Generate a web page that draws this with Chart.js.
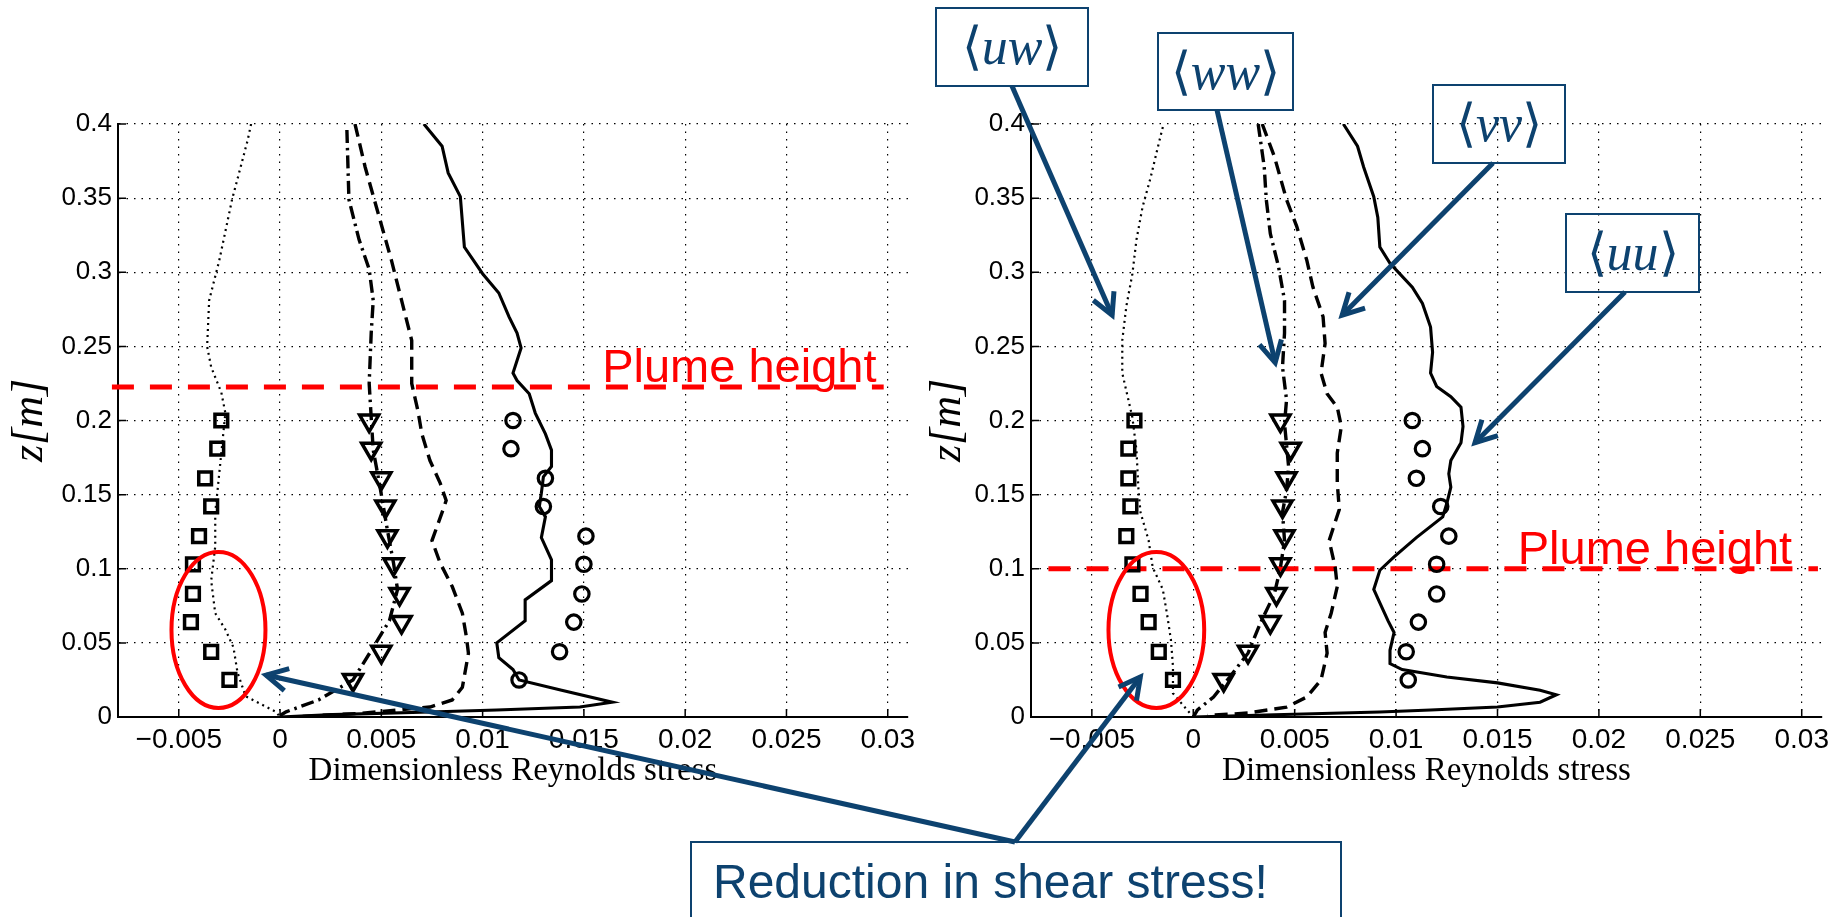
<!DOCTYPE html>
<html>
<head>
<meta charset="utf-8">
<script src="https://cdn.jsdelivr.net/npm/chart.js@4.4.1/dist/chart.umd.min.js"></script>
<style>
html, body { margin: 0; padding: 0; background: #fff; }
#page { position: relative; width: 1841px; height: 917px; overflow: hidden; background: #fff; }
#page canvas, #notes { position: absolute; left: 0; top: 0; }
</style>
</head>
<body>
<div id="page">
  <canvas id="leftChart" width="1841" height="917"></canvas>
  <canvas id="rightChart" width="1841" height="917"></canvas>
  <svg id="notes" width="1841" height="917"></svg>
</div>
<script>
// axis ticks
const xTicks = [-0.005, 0, 0.005, 0.01, 0.015, 0.02, 0.025, 0.03];
const xTickLabels = ["\u22120.005", "0", "0.005", "0.01", "0.015", "0.02", "0.025", "0.03"];
const yTicks = [0, 0.05, 0.1, 0.15, 0.2, 0.25, 0.3, 0.35, 0.4];
const yTickLabels = ["0", "0.05", "0.1", "0.15", "0.2", "0.25", "0.3", "0.35", "0.4"];

// probe heights shared by all measured profiles
const probeHeights = [0.2, 0.181, 0.161, 0.142, 0.122, 0.103, 0.083, 0.064, 0.044, 0.025];

// left panel, measured
const leftUwProbe = [-0.0029, -0.0031, -0.0037, -0.0034, -0.0040, -0.0043, -0.0043, -0.0044, -0.0034, -0.0025];
const leftWwProbe = [0.0044, 0.0045, 0.0050, 0.0052, 0.0053, 0.0056, 0.0059, 0.0060, 0.0050, 0.0036];
const leftUuProbe = [0.0115, 0.0114, 0.0131, 0.0130, 0.0151, 0.0150, 0.0149, 0.0145, 0.0138, 0.0118];

// left panel, simulated profiles as [stress, z]
const leftUwModel = [[-0.00143,0.4],[-0.0016,0.389],[-0.00237,0.349],[-0.0030,0.308],[-0.0035,0.281],[-0.0036,0.25],[-0.0034,0.236],[-0.0029,0.219],[-0.0027,0.205],[-0.0029,0.178],[-0.0031,0.151],[-0.0032,0.138],[-0.0032,0.115],[-0.0034,0.092],[-0.0032,0.07],[-0.0027,0.059],[-0.0023,0.047],[-0.0021,0.03],[-0.0017,0.014],[-0.0002,0.0035],[0,0]];
const leftWwModel = [[0.0033,0.396],[0.0034,0.349],[0.0039,0.322],[0.0044,0.302],[0.0046,0.281],[0.0045,0.259],[0.0044,0.225],[0.0045,0.202],[0.0046,0.18],[0.0049,0.158],[0.0053,0.126],[0.0056,0.104],[0.0058,0.086],[0.0054,0.065],[0.0046,0.047],[0.0036,0.025],[0.0019,0.0115],[0.0003,0.0035],[0,0.001]];
const leftVvModel = [[0.0037,0.4],[0.0042,0.371],[0.0049,0.337],[0.0055,0.308],[0.006,0.281],[0.0065,0.254],[0.0065,0.225],[0.0068,0.207],[0.007,0.191],[0.0074,0.173],[0.0079,0.158],[0.0082,0.146],[0.008,0.138],[0.0075,0.119],[0.0079,0.104],[0.0085,0.088],[0.009,0.07],[0.0092,0.054],[0.0093,0.043],[0.009,0.02],[0.0085,0.0115],[0.0074,0.0067],[0.004,0.0025],[0.0005,0]];
const leftUuModel = [[0.0071,0.4],[0.008,0.385],[0.0083,0.367],[0.0089,0.351],[0.0091,0.317],[0.01,0.299],[0.0108,0.286],[0.0113,0.27],[0.0117,0.259],[0.0119,0.249],[0.0115,0.232],[0.0117,0.227],[0.0123,0.218],[0.0126,0.205],[0.0131,0.191],[0.0134,0.18],[0.0134,0.169],[0.013,0.162],[0.0129,0.151],[0.0128,0.142],[0.0131,0.135],[0.0129,0.121],[0.0134,0.106],[0.0134,0.092],[0.0121,0.079],[0.0121,0.065],[0.0107,0.05],[0.0108,0.04],[0.0115,0.032],[0.0118,0.025],[0.0139,0.018],[0.0164,0.01],[0.0148,0.0067],[0.0107,0.0047],[0.0074,0.0034],[0.0026,0.0016],[0,0]];

// right panel, measured
const rightUwProbe = [-0.0029, -0.0032, -0.0032, -0.0031, -0.0033, -0.0030, -0.0026, -0.0022, -0.0017, -0.0010];
const rightWwProbe = [0.0043, 0.0048, 0.0046, 0.0044, 0.0045, 0.0043, 0.0041, 0.0038, 0.0027, 0.0015];
const rightUuProbe = [0.0108, 0.0113, 0.0110, 0.0122, 0.0126, 0.0120, 0.0120, 0.0111, 0.0105, 0.0106];

// right panel, simulated
const rightUwModel = [[-0.0015,0.398],[-0.0017,0.387],[-0.0021,0.364],[-0.0025,0.344],[-0.0028,0.322],[-0.003,0.299],[-0.0033,0.277],[-0.0035,0.254],[-0.0035,0.232],[-0.0032,0.214],[-0.003,0.202],[-0.0028,0.18],[-0.0027,0.153],[-0.0026,0.138],[-0.0022,0.119],[-0.002,0.101],[-0.0015,0.086],[-0.0013,0.07],[-0.0011,0.052],[-0.001,0.034],[-0.001,0.016],[-0.0003,0.0047],[0,0]];
const rightWwModel = [[0.0032,0.4],[0.0035,0.371],[0.0036,0.349],[0.0038,0.326],[0.0042,0.304],[0.0045,0.281],[0.0045,0.259],[0.0044,0.236],[0.0046,0.214],[0.0045,0.198],[0.0047,0.169],[0.0046,0.153],[0.0044,0.138],[0.0045,0.119],[0.0043,0.101],[0.004,0.083],[0.0033,0.063],[0.0027,0.043],[0.0018,0.027],[0.001,0.0135],[0.0002,0.0047],[0,0]];
const rightVvModel = [[0.0034,0.4],[0.004,0.378],[0.0046,0.349],[0.0051,0.331],[0.0056,0.308],[0.0059,0.29],[0.0064,0.27],[0.0065,0.252],[0.0063,0.232],[0.0066,0.218],[0.0071,0.209],[0.0073,0.196],[0.0071,0.178],[0.0071,0.158],[0.0072,0.14],[0.0067,0.119],[0.007,0.101],[0.0071,0.088],[0.0068,0.07],[0.0065,0.057],[0.0066,0.043],[0.0063,0.025],[0.0056,0.0135],[0.0046,0.0067],[0.0027,0.0027],[0.0007,0.001]];
const rightUuModel = [[0.0074,0.4],[0.0081,0.385],[0.0084,0.371],[0.0089,0.351],[0.0091,0.337],[0.0092,0.317],[0.0097,0.306],[0.0108,0.29],[0.0113,0.279],[0.0117,0.263],[0.0118,0.246],[0.0117,0.232],[0.012,0.223],[0.0127,0.216],[0.0132,0.209],[0.0133,0.196],[0.0132,0.185],[0.0127,0.173],[0.0126,0.164],[0.0127,0.155],[0.0125,0.144],[0.0123,0.135],[0.011,0.121],[0.0099,0.108],[0.0092,0.099],[0.0089,0.086],[0.0092,0.077],[0.0096,0.065],[0.0099,0.057],[0.0097,0.045],[0.0097,0.036],[0.0103,0.032],[0.0125,0.027],[0.015,0.023],[0.0171,0.018],[0.0179,0.015],[0.0171,0.01],[0.015,0.0067],[0.0117,0.0047],[0.0092,0.0034],[0.004,0.0015],[0,0]];

// plume heights and the stress span of their marker lines
const leftPlume = 0.2226;
const rightPlume = 0.1;
const leftPlumeSpan = [-0.0083, 0.0298];
const rightPlumeSpan = [-0.00714, 0.0308];

const NAVY = "#0d426f";
const SANS = '"Liberation Sans", Arial, Helvetica, sans-serif';
const SERIF = '"Liberation Serif", "Times New Roman", serif';

function curve(pairs) {
    return pairs.map(p => ({ x: p[0], y: p[1] }));
}

function probes(values) {
    return values.map((v, i) => ({ x: v, y: probeHeights[i] }));
}

function lineSet(pairs, dash, width) {
    return {
        data: curve(pairs),
        showLine: true,
        borderColor: "#000",
        borderWidth: width,
        borderDash: dash,
        pointRadius: 0,
        fill: false
    };
}

function markerSet(values, style, radius, rotation, width) {
    return {
        data: probes(values),
        showLine: false,
        pointStyle: style,
        pointRadius: radius,
        pointRotation: rotation,
        pointBorderColor: "#000",
        pointBackgroundColor: "rgba(0,0,0,0)",
        pointBorderWidth: width
    };
}

function plumeSet(height, span) {
    return {
        data: [{ x: span[0], y: height }, { x: span[1], y: height }],
        showLine: true,
        borderColor: "#ff0000",
        borderWidth: 5,
        borderDash: [22, 16],
        pointRadius: 0,
        clip: false
    };
}

// inward tick marks, the ellipse round the near-wall points and the plume label
const panelExtras = {
    id: "panelExtras",
    afterDatasetsDraw(chart, args, opts) {
        const { ctx, scales: { x, y } } = chart;
        ctx.save();
        ctx.strokeStyle = "#000";
        ctx.lineWidth = 1.5;
        ctx.beginPath();
        x.ticks.forEach(t => {
            const px = x.getPixelForValue(t.value);
            ctx.moveTo(px, y.bottom);
            ctx.lineTo(px, y.bottom - 8);
        });
        y.ticks.forEach(t => {
            const py = y.getPixelForValue(t.value);
            ctx.moveTo(x.left, py);
            ctx.lineTo(x.left + 8, py);
        });
        ctx.stroke();

        const e = opts.ellipse;
        const cx = x.getPixelForValue(e.x);
        const cy = y.getPixelForValue(e.y);
        const rx = Math.abs(x.getPixelForValue(e.x + e.rx) - cx);
        const ry = Math.abs(y.getPixelForValue(e.y + e.ry) - cy);
        ctx.strokeStyle = "#ff0000";
        ctx.lineWidth = 4;
        ctx.beginPath();
        ctx.ellipse(cx, cy, rx, ry, 0, 0, Math.PI * 2);
        ctx.stroke();

        ctx.fillStyle = "#ff0000";
        ctx.font = "47px " + SANS;
        ctx.textBaseline = "alphabetic";
        ctx.textAlign = "left";
        ctx.fillText("Plume height", x.getPixelForValue(opts.labelAt), y.getPixelForValue(opts.plume) - 5);
        ctx.restore();
    }
};

function makePanel(canvas, sets, padLeft, padRight, titleGap, extras) {
    return new Chart(canvas, {
        type: "scatter",
        data: {
            datasets: [
                lineSet(sets.uw, [2, 4], 2.2),
                lineSet(sets.ww, [13, 5, 2.5, 5], 3.4),
                lineSet(sets.vv, [13, 7], 3.4),
                lineSet(sets.uu, [], 3.1),
                markerSet(sets.uwProbe, "rect", 9, 0, 3.5),
                markerSet(sets.wwProbe, "triangle", 11, 180, 3.5),
                markerSet(sets.uuProbe, "circle", 7.2, 0, 3.2),
                plumeSet(sets.plume, sets.plumeSpan)
            ]
        },
        options: {
            responsive: false,
            animation: false,
            events: [],
            layout: {
                padding: { left: padLeft, right: padRight, top: 124, bottom: 120 }
            },
            plugins: {
                legend: { display: false },
                tooltip: { enabled: false },
                panelExtras: extras
            },
            scales: {
                x: {
                    type: "linear",
                    min: -0.008,
                    max: 0.031,
                    afterBuildTicks: s => { s.ticks = xTicks.map(v => ({ value: v })); },
                    afterFit: s => { s.height = 80; s.paddingLeft = 0; s.paddingRight = 0; },
                    grid: { color: "#000", lineWidth: 1.2, drawTicks: false },
                    border: { display: true, color: "#000", width: 2, dash: [1.5, 6] },
                    ticks: {
                        color: "#000",
                        font: { family: SANS, size: 28 },
                        padding: 6,
                        maxRotation: 0,
                        autoSkip: false,
                        callback: (v, i) => xTickLabels[i]
                    },
                    title: {
                        display: true,
                        text: "Dimensionless Reynolds stress",
                        color: "#000",
                        font: { family: SERIF, size: 33 },
                        padding: { top: 0, bottom: 6 }
                    }
                },
                y: {
                    type: "linear",
                    min: 0,
                    max: 0.4,
                    afterBuildTicks: s => { s.ticks = yTicks.map(v => ({ value: v })); },
                    afterFit: s => { s.width = 118; s.paddingTop = 0; s.paddingBottom = 0; },
                    grid: { color: "#000", lineWidth: 1.2, drawTicks: false },
                    border: { display: true, color: "#000", width: 2, dash: [1.5, 6] },
                    ticks: {
                        color: "#000",
                        font: { family: SANS, size: 26 },
                        padding: 6,
                        autoSkip: false,
                        callback: (v, i) => yTickLabels[i]
                    },
                    title: {
                        display: true,
                        text: "z[m]",
                        color: "#000",
                        font: { family: SERIF, size: 44, style: "italic" },
                        padding: { top: titleGap, bottom: 0 }
                    }
                }
            }
        },
        plugins: [panelExtras]
    });
}

const leftChart = makePanel(document.getElementById("leftChart"), {
    uw: leftUwModel, ww: leftWwModel, vv: leftVvModel, uu: leftUuModel,
    uwProbe: leftUwProbe, wwProbe: leftWwProbe, uuProbe: leftUuProbe,
    plume: leftPlume, plumeSpan: leftPlumeSpan
}, 0, 933, 4, {
    ellipse: { x: -0.00304, y: 0.0587, rx: 0.00232, ry: 0.0526 },
    labelAt: 0.0159,
    plume: leftPlume
});

const rightChart = makePanel(document.getElementById("rightChart"), {
    uw: rightUwModel, ww: rightWwModel, vv: rightVvModel, uu: rightUuModel,
    uwProbe: rightUwProbe, wwProbe: rightWwProbe, uuProbe: rightUuProbe,
    plume: rightPlume, plumeSpan: rightPlumeSpan
}, 913, 19, 9, {
    ellipse: { x: -0.00182, y: 0.0587, rx: 0.00236, ry: 0.0526 },
    labelAt: 0.016,
    plume: rightPlume
});

// callout boxes and arrows on top of both panels
const svg = document.getElementById("notes");
const NS = "http://www.w3.org/2000/svg";

function el(tag, attrs, parent) {
    const node = document.createElementNS(NS, tag);
    for (const k in attrs) node.setAttribute(k, attrs[k]);
    (parent || svg).appendChild(node);
    return node;
}

function at(chart, v, z) {
    return [chart.scales.x.getPixelForValue(v), chart.scales.y.getPixelForValue(z)];
}

function arrow(from, to) {
    el("line", { x1: from[0], y1: from[1], x2: to[0], y2: to[1], stroke: NAVY, "stroke-width": 5 });
    const ang = Math.atan2(from[1] - to[1], from[0] - to[0]);
    const spread = 28 * Math.PI / 180;
    const len = 24;
    const a = [to[0] + len * Math.cos(ang + spread), to[1] + len * Math.sin(ang + spread)];
    const b = [to[0] + len * Math.cos(ang - spread), to[1] + len * Math.sin(ang - spread)];
    el("polyline", {
        points: a.join(",") + " " + to.join(",") + " " + b.join(","),
        fill: "none", stroke: NAVY, "stroke-width": 5, "stroke-linejoin": "miter"
    });
}

function labelBox(box, letters) {
    el("rect", { x: box[0], y: box[1], width: box[2], height: box[3], fill: "none", stroke: NAVY, "stroke-width": 2 });
    const t = el("text", {
        x: box[0] + box[2] / 2, y: box[1] + 56,
        "text-anchor": "middle", fill: NAVY, "font-size": 52, "font-family": SERIF
    });
    el("tspan", {}, t).textContent = "\u27E8";
    el("tspan", { "font-style": "italic" }, t).textContent = letters;
    el("tspan", {}, t).textContent = "\u27E9";
}

const callouts = [
    { letters: "uw", box: [936, 8, 152, 78], tip: [-0.0040, 0.271] },
    { letters: "ww", box: [1158, 33, 135, 77], tip: [0.00404, 0.239] },
    { letters: "vv", box: [1433, 85, 132, 78], tip: [0.00734, 0.271] },
    { letters: "uu", box: [1566, 214, 133, 78], tip: [0.01389, 0.185] }
];
const startOffsets = [76, 59, 60, 59];

callouts.forEach((c, i) => {
    labelBox(c.box, c.letters);
    arrow([c.box[0] + startOffsets[i], c.box[1] + c.box[3]], at(rightChart, c.tip[0], c.tip[1]));
});

// shear stress note pointing into both panels
el("rect", { x: 691, y: 842, width: 650, height: 110, fill: "#fff", stroke: NAVY, "stroke-width": 2 });
const note = el("text", { x: 713, y: 898, fill: NAVY, "font-size": 48, "font-family": SANS });
note.textContent = "Reduction in shear stress!";
arrow([1015, 842], at(leftChart, -0.00069, 0.0283));
arrow([1015, 842], at(rightChart, -0.00261, 0.027));
</script>
</body>
</html>
